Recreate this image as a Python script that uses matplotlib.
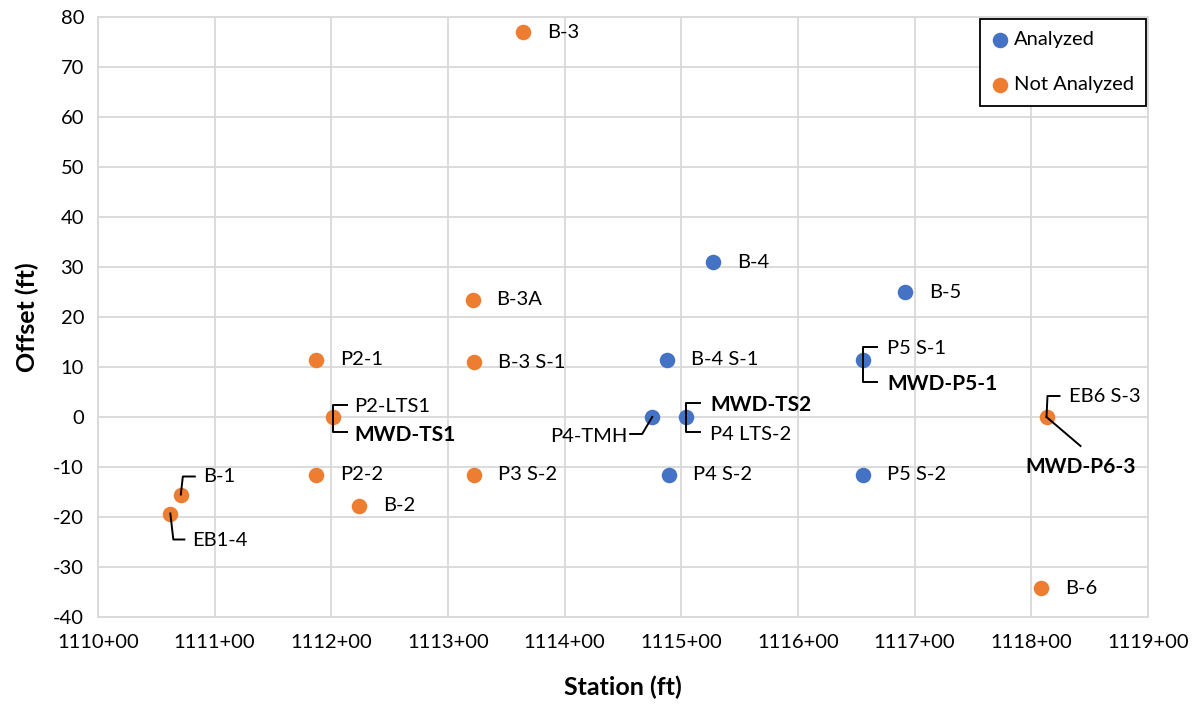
import matplotlib
matplotlib.use("Agg")
import matplotlib.pyplot as plt
from matplotlib.lines import Line2D
from matplotlib.transforms import IdentityTransform
from matplotlib.ticker import FixedLocator, FuncFormatter

plt.rcParams["font.family"] = ["Lato", "DejaVu Sans"]

# Boring locations: station (ft), offset (ft)
analyzed_names = ["B-4", "B-5", "B-4 S-1", "P5 S-1", "P4-TMH", "MWD-TS2", "P4 S-2", "P5 S-2"]
analyzed_station = [111527, 111692, 111488, 111656, 111475, 111504, 111489, 111656]
analyzed_offset = [31.0, 25.0, 11.5, 11.5, 0.0, 0.0, -11.5, -11.5]

not_analyzed_names = ["B-3", "B-3A", "B-3 S-1", "P2-1", "P2-LTS1", "P2-2", "B-2", "P3 S-2",
                      "B-1", "EB1-4", "EB6 S-3", "B-6"]
not_analyzed_station = [111364, 111321, 111322, 111187, 111201, 111187, 111224, 111322,
                        111071, 111062, 111813, 111808]
not_analyzed_offset = [77.0, 23.5, 11.0, 11.5, 0.0, -11.5, -17.7, -11.5,
                       -15.5, -19.3, 0.0, -34.2]

x_ticks = list(range(111000, 111901, 100))
y_ticks = list(range(-40, 81, 10))

BLUE = "#4472C4"
ORANGE = "#ED7D31"
GRID = "#D9D9D9"
FS = 14.5
FS_BOLD = 15
FS_TITLE = 18

fig = plt.figure(figsize=(12, 7.05), dpi=100)
ax = fig.add_axes([98 / 1200, 1 - 617 / 705, 1050 / 1200, 600 / 705])
ax.set_xlim(x_ticks[0], x_ticks[-1])
ax.set_ylim(y_ticks[0], y_ticks[-1])
ax.xaxis.set_major_locator(FixedLocator(x_ticks))
ax.yaxis.set_major_locator(FixedLocator(y_ticks))
ax.xaxis.set_major_formatter(FuncFormatter(lambda v, p: f"{int(v) // 100}+{int(v) % 100:02d}"))
ax.yaxis.set_major_formatter(FuncFormatter(lambda v, p: f"{int(v)}"))
ax.grid(True, color=GRID, linewidth=1.3)
ax.set_axisbelow(True)
for s in ax.spines.values():
    s.set_color(GRID)
    s.set_linewidth(1.3)
ax.tick_params(length=0, labelsize=FS, pad=12)
ax.tick_params(axis="y", pad=10)
ax.set_xlabel("Station (ft)", fontsize=FS_TITLE, fontweight="bold", labelpad=18)
ax.set_ylabel("Offset (ft)", fontsize=FS_TITLE, fontweight="bold", labelpad=10)

ax.scatter(analyzed_station, analyzed_offset, s=125, color=BLUE, linewidths=0,
           label="Analyzed", zorder=3)
ax.scatter(not_analyzed_station, not_analyzed_offset, s=125, color=ORANGE, linewidths=0,
           label="Not Analyzed", zorder=3)

all_pts = dict(zip(analyzed_names, zip(analyzed_station, analyzed_offset)))
all_pts.update(dict(zip(not_analyzed_names, zip(not_analyzed_station, not_analyzed_offset))))


def leader(name, path):
    """Draw a leader line given pixel offsets (right, down) from a point."""
    px, py = ax.transData.transform(all_pts[name])
    xs = [px + dx for dx, dy in path]
    ys = [py - dy for dx, dy in path]
    fig.add_artist(Line2D(xs, ys, transform=IdentityTransform(), color="black",
                          linewidth=1.4, zorder=4))


def label(name, text, dx=24, dy=0, bold=False, ha="left"):
    ax.annotate(text, all_pts[name], xytext=(dx, -dy), textcoords="offset pixels",
                ha=ha, va="center", fontsize=FS_BOLD if bold else FS,
                fontweight="bold" if bold else "normal", zorder=5)


# Plain labels to the right of each point
for n in ["B-4", "B-5", "B-4 S-1", "P4 S-2", "P5 S-2", "B-3", "B-3A", "B-3 S-1",
          "P2-1", "P2-2", "B-2", "P3 S-2", "B-6"]:
    label(n, n)

# Labels with leader lines
leader("B-1", [(0, 0), (2, -18), (14, -18)])
label("B-1", "B-1", dx=22, dy=-18)

leader("EB1-4", [(0, 0), (3, 26), (14, 26)])
label("EB1-4", "EB1-4", dx=22, dy=27)

leader("P2-LTS1", [(14, -12), (0, -12), (0, 15), (14, 15)])
label("P2-LTS1", "P2-LTS1", dx=22, dy=-11)
label("P2-LTS1", "MWD-TS1", dx=22, dy=18, bold=True)

leader("MWD-TS2", [(14, -14), (0, -14), (0, 15), (14, 15)])
label("MWD-TS2", "MWD-TS2", dx=24, dy=-12, bold=True)
label("MWD-TS2", "P4 LTS-2", dx=24, dy=18)

leader("P4-TMH", [(0, 0), (-10, 17), (-22, 17)])
label("P4-TMH", "P4-TMH", dx=-25, dy=19, ha="right")

leader("P5 S-1", [(14, -13), (0, -13), (0, 22), (14, 22)])
label("P5 S-1", "P5 S-1", dx=24, dy=-11)
label("P5 S-1", "MWD-P5-1", dx=24, dy=24, bold=True)

leader("EB6 S-3", [(0, 0), (1, -21), (13, -21)])
label("EB6 S-3", "EB6 S-3", dx=22, dy=-21)

leader("EB6 S-3", [(0, 0), (34, 29)])
label("EB6 S-3", "MWD-P6-3", dx=34, dy=50, bold=True, ha="center")

leg = ax.legend(loc="upper right", bbox_to_anchor=(1.0, 1.0), borderaxespad=0.1,
                fontsize=FS, frameon=True, fancybox=False, framealpha=1,
                edgecolor="black", handletextpad=0.3, labelspacing=1.4,
                borderpad=0.6, handlelength=0.8, handleheight=0.7, scatterpoints=1)
leg.get_frame().set_linewidth(1.3)

fig.savefig("out.png", dpi=100, facecolor="white")
